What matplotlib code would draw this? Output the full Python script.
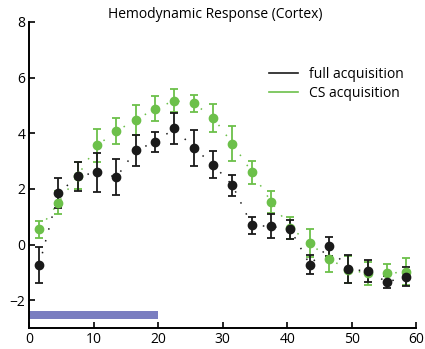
import numpy as np
import matplotlib.pyplot as plt

plt.rcParams['font.family'] = ['Open Sans', 'DejaVu Sans']

# time points (s)
t = [1.5, 4.5, 7.5, 10.5, 13.5, 16.5, 19.5, 22.5, 25.5, 28.5,
     31.5, 34.5, 37.5, 40.5, 43.5, 46.5, 49.5, 52.5, 55.5, 58.5]

full_mean = [-0.74, 1.85, 2.45, 2.60, 2.42, 3.39, 3.68, 4.17, 3.47, 2.87,
             2.13, 0.69, 0.65, 0.54, -0.72, -0.07, -0.88, -0.96, -1.35, -1.15]
full_err = [0.65, 0.53, 0.53, 0.70, 0.64, 0.56, 0.35, 0.55, 0.64, 0.48,
            0.37, 0.30, 0.43, 0.35, 0.35, 0.35, 0.50, 0.40, 0.22, 0.35]

cs_mean = [0.54, 1.51, 2.48, 3.56, 4.08, 4.48, 4.88, 5.17, 5.07, 4.56,
           3.63, 2.60, 1.54, 0.60, 0.05, -0.52, -0.90, -1.04, -1.04, -0.98]
cs_err = [0.30, 0.43, 0.50, 0.58, 0.47, 0.55, 0.45, 0.42, 0.32, 0.50,
          0.63, 0.41, 0.40, 0.40, 0.50, 0.48, 0.50, 0.40, 0.35, 0.48]

stim_start, stim_end = 0, 20

BLACK = '#1a1a1a'
GREEN = '#6cc04a'

fig = plt.figure(figsize=(4.25, 3.49), dpi=100)
ax = fig.add_axes([0.0694, 0.0602, 0.9096, 0.877])

# stimulus bar
ax.fill_between([stim_start, stim_end], -2.66, -2.38, color='#7a7dc0', lw=0)

# dotted connecting lines
ax.plot(t, cs_mean, color=GREEN, ls=(0, (1, 7)), lw=1.1)
ax.plot(t, full_mean, color=BLACK, ls=(0, (1, 7)), lw=1.1)

ax.errorbar(t, cs_mean, yerr=cs_err, fmt='o', color=GREEN, ms=6,
            capsize=2.6, elinewidth=1.3, capthick=1.3)
ax.errorbar(t, full_mean, yerr=full_err, fmt='o', color=BLACK, ms=6,
            capsize=2.6, elinewidth=1.3, capthick=1.3)

# legend handles
ax.plot([], [], color=BLACK, lw=1.2, label='full acquisition')
ax.plot([], [], color=GREEN, lw=1.2, label='CS acquisition')
handles, labels = ax.get_legend_handles_labels()
ax.legend(handles[-2:], labels[-2:], frameon=False, fontsize=10,
          loc='upper right', bbox_to_anchor=(1.0, 0.895),
          handlelength=2.1, handletextpad=0.8, labelspacing=0.3)

ax.set_xlim(0, 60)
ax.set_ylim(-3, 8)
ax.set_xticks([0, 10, 20, 30, 40, 50, 60])
ax.set_yticks([-2, 0, 2, 4, 6, 8])
ax.set_yticklabels(['\u22122', '0', '2', '4', '6', '8'])
ax.tick_params(direction='in', labelsize=10, width=1.2, length=4, pad=3)
for s in ['top', 'right']:
    ax.spines[s].set_visible(False)
for s in ['left', 'bottom']:
    ax.spines[s].set_linewidth(1.4)

ax.set_title('Hemodynamic Response (Cortex)', fontsize=10, x=0.48, pad=1)

fig.savefig('out.png', dpi=100)
